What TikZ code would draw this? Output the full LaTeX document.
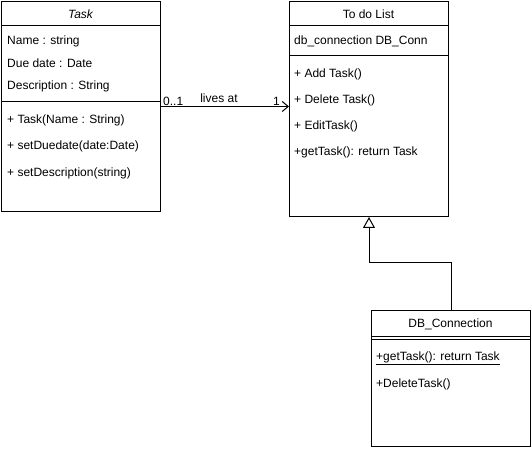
\documentclass[tikz,border=0pt]{standalone}
\usepackage{fontspec}
\setmainfont{Liberation Sans}
\usetikzlibrary{arrows.meta,calc}
\begin{document}
\begin{tikzpicture}[x=1pt,y=-1pt,
  box/.style={draw=black,line width=1pt,fill=white,inner sep=0pt,anchor=north west},
  txt/.style={anchor=west,inner sep=0pt,yshift=-1pt,font=\fontsize{12}{14}\selectfont},
  hdr/.style={anchor=center,inner sep=0pt,yshift=-0.5pt,font=\fontsize{12}{14}\selectfont},
  sep/.style={line width=1pt},
  conn/.style={line width=1pt},
  lbl/.style={inner sep=0pt,font=\fontsize{12}{14}\selectfont}]
\useasboundingbox[fill=white] (0,0) rectangle (531,449);
% Task class
\node[box,minimum width=159pt,minimum height=210pt] (task) at (1,1) {};
\draw[sep] (1,26) -- (160,26);
\draw[sep] (1,102) -- (160,102);
\node[hdr,font=\fontsize{12}{14}\selectfont\itshape] (taskh) at (80.5,13.5) {Task};
\node[txt] (t1) at (7,40) {Name : string};
\node[txt] (t2) at (7,62) {Due date : Date};
\node[txt] (t3) at (7,85) {Description : String};
\node[txt] (t4) at (7,119) {+ Task(Name : String)};
\node[txt] (t5) at (7,145) {+ setDuedate(date:Date)};
\node[txt] (t6) at (7,172) {+ setDescription(string)};
% To do List class
\node[box,minimum width=159pt,minimum height=215pt] (todo) at (289,1) {};
\draw[sep] (289,26) -- (448,26);
\draw[sep] (289,56) -- (448,56);
\node[hdr] (todoh) at (368.5,13.5) {To do List};
\node[txt] (d1) at (294,40) {db\_connection DB\_Conn};
\node[txt] (d2) at (294,73) {+ Add Task()};
\node[txt] (d3) at (294,99) {+ Delete Task()};
\node[txt] (d4) at (294,125) {+ EditTask()};
\node[txt] (d5) at (294,151) {+getTask(): return Task};
% DB_Connection class
\node[box,minimum width=159pt,minimum height=136pt] (db) at (371,310) {};
\draw[sep] (371,337) -- (530,337);
\draw[sep] (371,340) -- (530,340);
\node[hdr] (dbh) at (450.5,324) {DB\_Connection};
\node[txt] (b1) at (376,357) {\underline{+getTask(): return Task}};
\node[txt] (b2) at (376,383) {+DeleteTask()};
% association
\draw[conn,-{Straight Barb[length=6pt,width=10pt,line width=1pt]}] (task.east) -- (task.east -| todo.west);
\node[lbl,anchor=south west] (m1) at ($(task.east)+(2,-1)$) {0..1};
\node[lbl,anchor=south] (m2) at (219,103) {lives at};
\node[lbl,anchor=south east] (m3) at ($(task.east -| todo.west)+(-9,-1)$) {1};
% generalization
\coordinate (mid) at (0,263);
\draw[conn,-{Triangle[open,length=11pt,width=12pt,line width=1pt]}] (db.north) |- (mid -| todo.south) -- (todo.south);
\end{tikzpicture}
\end{document}
